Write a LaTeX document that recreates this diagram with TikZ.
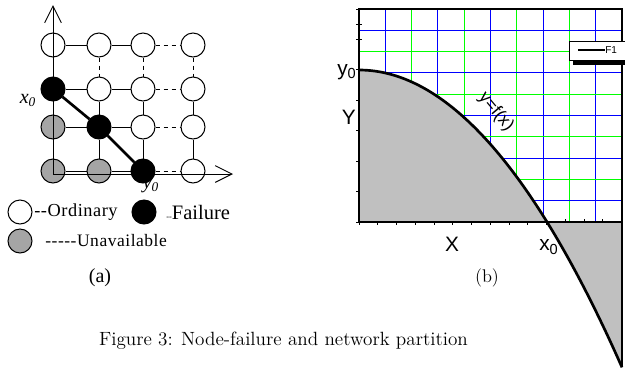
\documentclass[tikz,border=0pt]{standalone}
\usepackage{fontspec}
\newfontfamily\timesfont{Liberation Serif}
\newfontfamily\spacedtimes{Liberation Serif}[LetterSpace=3, Ligatures=NoCommon]
\newfontfamily\arialfont{Liberation Sans}
\usetikzlibrary{arrows.meta}
\definecolor{nodegray}{RGB}{165,165,165}
\definecolor{areagray}{RGB}{192,192,192}
\definecolor{gridblue}{RGB}{0,0,255}
\definecolor{gridgreen}{RGB}{0,255,0}

\begin{document}
\begin{tikzpicture}[x=0.6pt, y=-0.6pt,
  every node/.style={inner sep=0pt},
  site/.style={circle, draw, line width=0.6pt, minimum size=14.4pt},
  ordinary/.style={site, fill=white},
  failure/.style={site, fill=black},
  unavail/.style={site, fill=nodegray},
  link/.style={line width=0.6pt},
  dlink/.style={link, dash pattern=on 2.4pt off 2.4pt},
  cut/.style={line width=1.6pt},
  axis/.style={line width=0.6pt, -{Straight Barb[length=10pt, width=10pt]}},
  tlabel/.style={font=\spacedtimes\fontsize{11}{13}\selectfont},
  slabel/.style={font=\arialfont\fontsize{12.5}{14}\selectfont},
  blueline/.style={gridblue, line width=0.6pt},
  greenline/.style={gridgreen, line width=0.6pt}]
\useasboundingbox (0,0) rectangle (625,372);

% (a) grid of sites
\foreach \nm/\x/\y/\kind in {n11/53/45/ordinary, n12/99/45/ordinary, n13/143/45/ordinary, n14/193/45/ordinary,
    n21/53/89/failure, n22/99/89/ordinary, n23/143/89/ordinary, n24/193/89/ordinary,
    n31/53/127/unavail, n32/99/127/failure, n33/143/127/ordinary, n34/193/127/ordinary,
    n41/53/171/unavail, n42/99/171/unavail, n43/143/171/failure, n44/193/171/ordinary}
  \node[\kind] (\nm) at (\x,\y) {};
\foreach \a/\b in {n11/n12, n12/n13, n21/n22, n22/n23, n31/n32, n32/n33, n41/n42, n42/n43,
    n21/n31, n31/n41, n22/n32, n32/n42, n23/n33, n33/n43, n24/n34, n34/n44}
  \draw[link] (\a) -- (\b);
\foreach \a/\b in {n13/n14, n23/n24, n33/n34, n43/n44, n11/n21, n12/n22, n13/n23, n14/n24}
  \draw[dlink] (\a) -- (\b);
\draw[cut] (n21) -- (n32) -- (n43);
\coordinate (org) at (53,174);
\coordinate (ytip) at (53,5);
\coordinate (xtip) at (233,174);
\draw[axis] (org) -- (ytip);
\draw[axis] (org) -- (xtip);
\node[font=\timesfont\itshape\fontsize{12}{14}\selectfont] (x0a) at (28,100) {x\textsubscript{0}};
\node[font=\timesfont\itshape\fontsize{12}{14}\selectfont] (y0a) at (151,186) {y\textsubscript{0}};

% (a) key
\node[ordinary] (keyord) at (20,212) {};
\node[tlabel, anchor=west] (txtord) at (34,212) {-{}-Ordinary};
\node[failure] (keyfail) at (144,212) {};
\node[font=\timesfont\fontsize{12.3}{14}\selectfont, anchor=west] (txtfail) at (166,212) {{\tiny -{}-}Failure};
\node[unavail] (keyuna) at (20,241) {};
\node[tlabel, font=\spacedtimes\fontsize{10.5}{13}\selectfont, anchor=west] (txtuna) at (45,241) {-{}-{}-{}-{}-Unavailable};
\node[font=\timesfont\fontsize{12}{14}\selectfont] (capa) at (100,278) {(a)};

% (b) grid and frame
\foreach \gx in {385.5,437.5,490.5,543.5,595.5}
  \draw[blueline] (\gx,9) -- (\gx,222);
\foreach \gx in {411.5,464.5,516.5,569.5}
  \draw[greenline] (\gx,9) -- (\gx,222);
\foreach \gy in {200.5,158.5,115.5,72.5,30.5}
  \draw[blueline] (359,\gy) -- (622,\gy);
\foreach \gy in {179.5,136.5,94.5,51.5}
  \draw[greenline] (359,\gy) -- (622,\gy);
\draw[line width=0.8pt] (359,9) rectangle (622,222);
\foreach \ty in {9,24,39,69.5,100,130.5,161,191.5,222}
  \draw[link] (356,\ty) -- (362,\ty);
\foreach \k in {0,...,14}
  \draw[link] ({359+18.75*\k},219) -- ({359+18.75*\k},225);

% (b) area under y=f(x)
\fill[areagray] (359,222) -- plot[domain=359:622, samples=80] (\x,{70+(0.06557*(\x-359))^2}) -- (622,222) -- cycle;
\draw[line width=0.8pt] (359,222) -- (622,222);
\draw[cut] plot[domain=359:622, samples=80] (\x,{70+(0.06557*(\x-359))^2});
\draw[cut] (359,70) -- (359,222);
\draw[cut] (622,222) -- (622,367);

% (b) labels
\node[slabel, anchor=east] (y0b) at (357,72) {y\textsubscript{0}};
\node[slabel, anchor=east] (yb) at (356,117) {Y};
\node[slabel] (xb) at (452,244) {X};
\node[slabel] (x0b) at (549,247) {x\textsubscript{0}};
\node[font=\arialfont\fontsize{10.5}{12}\selectfont, rotate=-50] (fb) at (496,112) {y=f(x)};

% (b) key box
\fill (573,60) rectangle (630,65);
\draw[fill=white, line width=0.6pt] (569,41) rectangle (630,60);
\coordinate (keyl) at (578,50);
\coordinate (keyr) at (605,50);
\draw[cut] (keyl) -- (keyr);
\node[font=\arialfont\fontsize{6}{7}\selectfont, anchor=west] (keyf1) at (keyr) {F1};
\node[font=\fontsize{11}{13}\selectfont] (capb) at (487,278) {(b)};

% caption
\node[font=\fontsize{11.5}{13}\selectfont, anchor=base] (fig) at (283.5,345) {Figure 3: Node-failure and network partition};
\end{tikzpicture}
\end{document}
